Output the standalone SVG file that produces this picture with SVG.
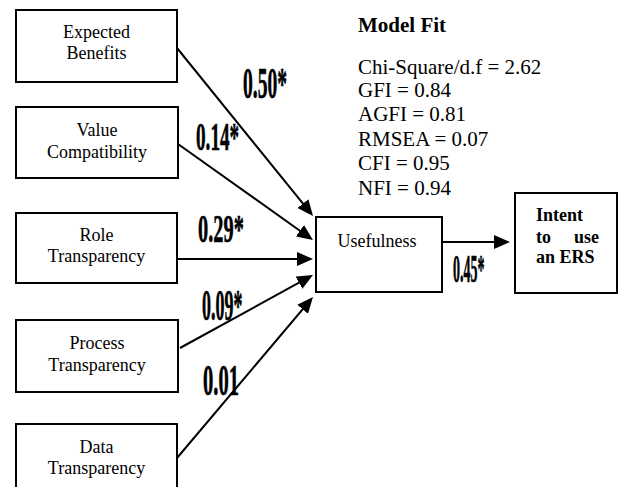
<svg xmlns="http://www.w3.org/2000/svg" width="619" height="487" viewBox="0 0 619 487">
<style>
text{font-family:"Liberation Serif","DejaVu Serif",serif;fill:#000}
.box{fill:#fff;stroke:#000;stroke-width:2}
.lbl{font-size:18px;text-anchor:middle}
.bold{font-size:18px;font-weight:bold}
.fit{font-size:21px}
.coef{font-size:20px;font-weight:bold;stroke:#000;stroke-width:0.3}
.conn{stroke:#000;stroke-width:2;fill:none;marker-end:url(#ah)}
</style>
<defs>
<marker id="ah" viewBox="0 0 16 14" refX="12" refY="7" markerWidth="16" markerHeight="14" markerUnits="userSpaceOnUse" orient="auto">
<path d="M0,0 L16,7 L0,14 z" fill="#000"/>
</marker>
</defs>
<rect width="619" height="487" fill="#fff"/>
<g id="expected-benefits">
<rect class="box" x="16" y="10" width="161" height="72"/>
<text class="lbl" x="96.5" y="38" font-family="Liberation Serif, serif">Expected</text>
<text class="lbl" x="96.5" y="59" font-family="Liberation Serif, serif">Benefits</text>
</g>
<g id="value-compatibility">
<rect class="box" x="16" y="107" width="162" height="71"/>
<text class="lbl" x="97" y="136" font-family="Liberation Serif, serif">Value</text>
<text class="lbl" x="97" y="158" font-family="Liberation Serif, serif">Compatibility</text>
</g>
<g id="role-transparency">
<rect class="box" x="16" y="213" width="161" height="70"/>
<text class="lbl" x="96.5" y="241" font-family="Liberation Serif, serif">Role</text>
<text class="lbl" x="96.5" y="262" font-family="Liberation Serif, serif">Transparency</text>
</g>
<g id="process-transparency">
<rect class="box" x="16" y="320" width="162" height="72"/>
<text class="lbl" x="97" y="349" font-family="Liberation Serif, serif">Process</text>
<text class="lbl" x="97" y="371" font-family="Liberation Serif, serif">Transparency</text>
</g>
<g id="data-transparency">
<rect class="box" x="16" y="424" width="161" height="70"/>
<text class="lbl" x="96.5" y="453" font-family="Liberation Serif, serif">Data</text>
<text class="lbl" x="96.5" y="474" font-family="Liberation Serif, serif">Transparency</text>
</g>
<g id="usefulness">
<rect class="box" x="316" y="217" width="126" height="75"/>
<text class="lbl" x="377" y="247" font-family="Liberation Serif, serif">Usefulness</text>
</g>
<g id="intent">
<rect class="box" x="515" y="193" width="102" height="100"/>
<text class="bold" x="536" y="221">Intent</text>
<text class="bold" x="536" y="243">to</text>
<text class="bold" x="599" y="243" text-anchor="end">use</text>
<text class="bold" x="536" y="263">an ERS</text>
</g>
<g id="model-fit">
<text class="fit" x="358" y="32" font-weight="bold">Model Fit</text>
<text class="fit" x="358" y="74">Chi-Square/d.f = 2.62</text>
<text class="fit" x="358" y="97">GFI = 0.84</text>
<text class="fit" x="358" y="121">AGFI = 0.81</text>
<text class="fit" x="358" y="146">RMSEA = 0.07</text>
<text class="fit" x="358" y="170">CFI = 0.95</text>
<text class="fit" x="358" y="195">NFI = 0.94</text>
</g>
<g id="connectors">
<line class="conn" x1="177" y1="48" x2="310.5" y2="212.9"/>
<line class="conn" x1="178" y1="144" x2="309.7" y2="237.7"/>
<line class="conn" x1="176" y1="259" x2="309" y2="259"/>
<line class="conn" x1="180" y1="348" x2="309.5" y2="276.9"/>
<line class="conn" x1="177" y1="458" x2="310.4" y2="300.1"/>
<line class="conn" x1="442" y1="242" x2="506" y2="242"/>
</g>
<g id="coefficients">
<text class="coef" transform="translate(243,98) scale(0.98,2.25)">0.50*</text>
<text class="coef" transform="translate(196,150) scale(0.96,2.05)">0.14*</text>
<text class="coef" transform="translate(198,242) scale(1.02,2.0)">0.29*</text>
<text class="coef" transform="translate(202,320) scale(0.9,2.2)">0.09*</text>
<text class="coef" transform="translate(203,395) scale(1.03,2.2)">0.01</text>
<text class="coef" transform="translate(453,282) scale(0.7,2.05)">0.45*</text>
</g>
</svg>
